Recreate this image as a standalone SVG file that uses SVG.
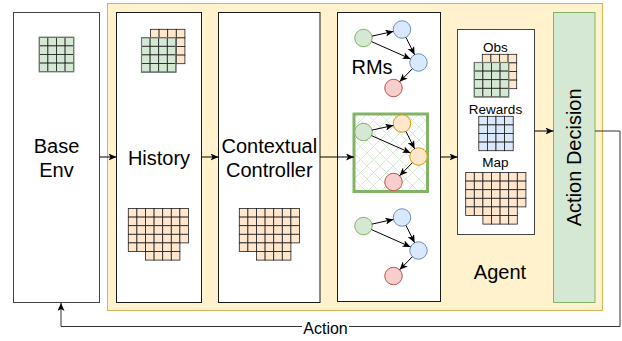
<svg xmlns="http://www.w3.org/2000/svg" xmlns:xlink="http://www.w3.org/1999/xlink" width="622" height="341" viewBox="0 0 622 341">
  <style>
    .box { fill: #ffffff; stroke: #1a1a1a; stroke-width: 1; }
    .lbl { font-family: "Liberation Sans", Arial, sans-serif; fill: #000; }
    .big { font-size: 20px; }
    .small { font-size: 13.5px; }
    .edge { fill: none; stroke: #000; stroke-width: 1; }
    .cell { stroke: #1f1f1f; stroke-width: 0.8; }
    .cg { fill: #d5e8d4; }
    .co { fill: #ffe6cc; }
    .cb { fill: #dae8fc; }
    .nG { fill: #d5e8d4; stroke: #82b366; stroke-width: 1; }
    .nB { fill: #dae8fc; stroke: #6c8ebf; stroke-width: 1; }
    .nO { fill: #ffe6cc; stroke: #d79b00; stroke-width: 1; }
    .nR { fill: #f8cecc; stroke: #b85450; stroke-width: 1; }
  </style>
  <defs>
    <marker id="arr" viewBox="0 0 8 7" refX="8" refY="3.5" markerWidth="8" markerHeight="7" markerUnits="userSpaceOnUse" orient="auto">
      <path d="M0,0 L8,3.5 L0,7 L2,3.5 z" fill="#000"/>
    </marker>
    <pattern id="hatch" width="13" height="13" patternUnits="userSpaceOnUse" x="354" y="114">
      <path d="M0,0 L13,13 M13,0 L0,13" stroke="#d5e8d4" stroke-width="1"/>
    </pattern>
    <!-- single grid cells -->
    <rect id="cG" class="cell cg" width="8.6" height="8.6"/>
    <rect id="cO" class="cell co" width="8.6" height="8.6"/>
    <rect id="cB" class="cell cb" width="8.6" height="8.6"/>
    <!-- 4x4 grids -->
    <g id="row4G"><use href="#cG" x="0"/><use href="#cG" x="8.6"/><use href="#cG" x="17.2"/><use href="#cG" x="25.8"/></g>
    <g id="row4O"><use href="#cO" x="0"/><use href="#cO" x="8.6"/><use href="#cO" x="17.2"/><use href="#cO" x="25.8"/></g>
    <g id="row4B"><use href="#cB" x="0"/><use href="#cB" x="8.6"/><use href="#cB" x="17.2"/><use href="#cB" x="25.8"/></g>
    <g id="g4G"><use href="#row4G" y="0"/><use href="#row4G" y="8.6"/><use href="#row4G" y="17.2"/><use href="#row4G" y="25.8"/><rect width="34.4" height="34.4" fill="none" stroke="#6f7f6f" stroke-width="1.2"/></g>
    <g id="g4O"><use href="#row4O" y="0"/><use href="#row4O" y="8.6"/><use href="#row4O" y="17.2"/><use href="#row4O" y="25.8"/></g>
    <g id="g4B"><use href="#row4B" y="0"/><use href="#row4B" y="8.6"/><use href="#row4B" y="17.2"/><use href="#row4B" y="25.8"/></g>
    <!-- map-shaped orange grid -->
    <g id="row7O"><use href="#row4O"/><use href="#cO" x="34.4"/><use href="#cO" x="43"/><use href="#cO" x="51.6"/></g>
    <g id="mapO">
      <use href="#row7O" y="0"/><use href="#row7O" y="8.6"/><use href="#row7O" y="17.2"/><use href="#row7O" y="25.8"/>
      <use href="#row4O" y="34.4"/><use href="#cO" x="34.4" y="34.4"/><use href="#cO" x="43" y="34.4"/>
      <use href="#row4O" x="17.2" y="43"/>
    </g>
    <!-- reward machine edges -->
    <g id="rmEdges">
      <line class="edge" x1="372" y1="36.1" x2="393.4" y2="31.4" marker-end="url(#arr)"/>
      <line class="edge" x1="371.5" y1="41.6" x2="410.5" y2="58.9" marker-end="url(#arr)"/>
      <line class="edge" x1="405.9" y1="37.3" x2="414.6" y2="54.7" marker-end="url(#arr)"/>
      <line class="edge" x1="412.4" y1="68.7" x2="399.6" y2="81.8" marker-end="url(#arr)"/>
    </g>
  </defs>

  <rect width="622" height="341" fill="#ffffff"/>

  <!-- agent container -->
  <g id="agent">
    <rect x="107.5" y="3.5" width="495" height="307" fill="#fff2cc" stroke="#d6b656" stroke-width="1"/>
    <text class="lbl big" x="500" y="279" text-anchor="middle">Agent</text>
  </g>

  <g id="base-env">
    <rect class="box" x="13.5" y="12.5" width="86" height="290" style="stroke:#444"/>
    <use href="#g4G" x="39.3" y="37.3"/>
    <text class="lbl big" x="56.5" y="152.5" text-anchor="middle">Base</text>
    <text class="lbl big" x="56.5" y="176.5" text-anchor="middle">Env</text>
  </g>

  <g id="history">
    <rect class="box" x="116.5" y="12.5" width="85" height="290"/>
    <use href="#g4O" x="150.5" y="29.3"/>
    <use href="#g4G" x="141.5" y="37.7"/>
    <use href="#mapO" x="128.3" y="208.5"/>
    <text class="lbl big" x="159" y="164.5" text-anchor="middle">History</text>
  </g>

  <g id="contextual-controller">
    <rect class="box" x="218.5" y="12.5" width="101.5" height="290"/>
    <use href="#mapO" x="239.3" y="208.5"/>
    <text class="lbl big" x="269.3" y="153" text-anchor="middle">Contextual</text>
    <text class="lbl big" x="269.3" y="177" text-anchor="middle">Controller</text>
  </g>

  <g id="rms">
    <rect class="box" x="337.5" y="12.5" width="103" height="289"/>
    <text class="lbl big" x="372" y="74" text-anchor="middle">RMs</text>
    <rect x="354" y="114" width="73.5" height="77.5" fill="#ffffff"/>
    <rect x="354" y="114" width="73.5" height="77.5" fill="url(#hatch)" stroke="#82b366" stroke-width="3"/>
    <g id="rm1">
      <circle class="nG" cx="363.5" cy="38" r="8.75"/>
      <circle class="nB" cx="402" cy="29.5" r="8.75"/>
      <circle class="nB" cx="418.5" cy="62.5" r="8.75"/>
      <circle class="nR" cx="393.5" cy="88" r="8.75"/>
    </g>
    <g id="rm2" transform="translate(0,94)">
      <circle class="nG" cx="363.5" cy="38" r="8.75"/>
      <circle class="nO" cx="402" cy="29.5" r="8.75"/>
      <circle class="nO" cx="418.5" cy="62.5" r="8.75"/>
      <circle class="nR" cx="393.5" cy="88" r="8.75"/>
    </g>
    <g id="rm3" transform="translate(0,188)">
      <circle class="nG" cx="363.5" cy="38" r="8.75"/>
      <circle class="nB" cx="402" cy="29.5" r="8.75"/>
      <circle class="nB" cx="418.5" cy="62.5" r="8.75"/>
      <circle class="nR" cx="393.5" cy="88" r="8.75"/>
    </g>
  </g>

  <g id="agent-inputs">
    <rect class="box" x="457.5" y="29.5" width="77" height="205" style="stroke:#444"/>
    <text class="lbl small" x="495.5" y="52" text-anchor="middle">Obs</text>
    <use href="#g4O" x="482.3" y="54.3"/>
    <use href="#g4G" x="474.3" y="62.5"/>
    <text class="lbl small" x="495.5" y="114" text-anchor="middle">Rewards</text>
    <use href="#g4B" x="478.8" y="116.3"/>
    <text class="lbl small" x="495.5" y="167" text-anchor="middle">Map</text>
    <use href="#mapO" x="465.7" y="172.5"/>
  </g>

  <g id="action-decision">
    <rect x="553.5" y="12.5" width="41.5" height="290" fill="#d5e8d4" stroke="#82b366" stroke-width="1"/>
    <text class="lbl big" x="581" y="157.3" text-anchor="middle" transform="rotate(-90 581 157.3)">Action Decision</text>
  </g>

  <g id="connectors">
    <line class="edge" x1="99.5" y1="157" x2="116.5" y2="157" marker-end="url(#arr)"/>
    <line class="edge" x1="201.5" y1="157" x2="218.5" y2="157" marker-end="url(#arr)"/>
    <line class="edge" x1="320" y1="157" x2="354" y2="157" marker-end="url(#arr)"/>
    <line class="edge" x1="440.5" y1="157" x2="457.5" y2="157" marker-end="url(#arr)"/>
    <line class="edge" x1="534.5" y1="131" x2="553.5" y2="131" marker-end="url(#arr)"/>
    <use href="#rmEdges"/>
    <use href="#rmEdges" y="94"/>
    <use href="#rmEdges" y="188"/>
    <path class="edge" d="M595,131 H620 V326.5 H61 V303" style="stroke:#333" marker-end="url(#arr)"/>
    <rect x="302" y="319" width="47" height="16" fill="#ffffff"/>
    <text class="lbl" x="325.5" y="334" text-anchor="middle" font-size="16">Action</text>
  </g>
</svg>
